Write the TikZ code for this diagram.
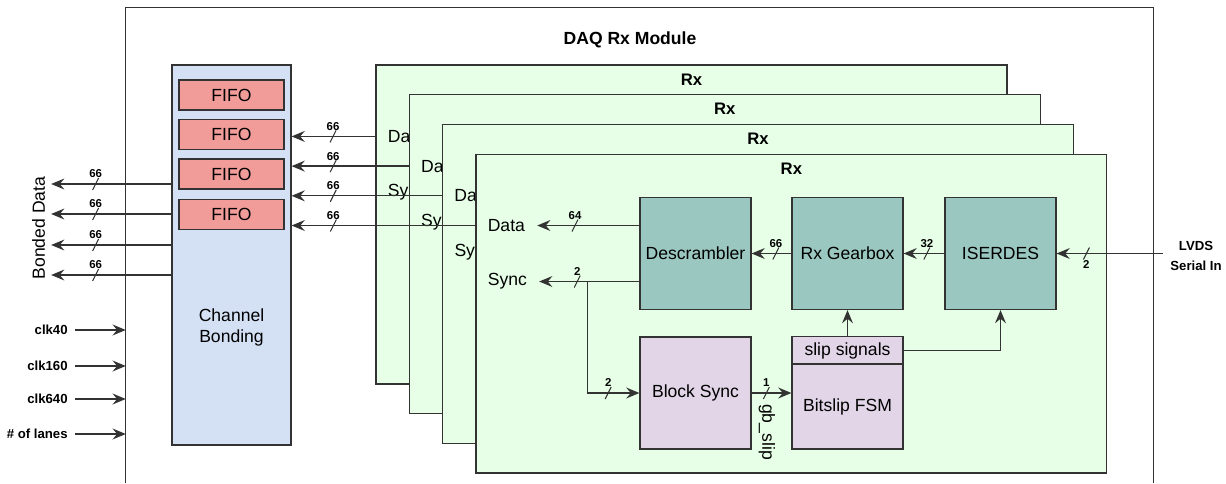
\documentclass[tikz,border=0pt]{standalone}
\usepackage{fontspec}
\setmainfont{Liberation Sans}
\usetikzlibrary{arrows.meta,calc}

\definecolor{rxfill}{HTML}{E6FFE6}
\definecolor{bondfill}{HTML}{D4E1F5}
\definecolor{fifofill}{HTML}{F19C99}
\definecolor{pipefill}{HTML}{9AC7BF}
\definecolor{ctrlfill}{HTML}{E1D5E7}
\definecolor{strokegray}{HTML}{333333}

\tikzset{
  blk/.style={draw=strokegray, line width=0.7pt, inner sep=0pt},
  arr/.style={draw=strokegray, line width=0.75pt, -{Stealth[length=7.5pt,width=6.2pt,inset=2.6pt]}},
  buslbl/.style={font=\fontsize{6.5}{7}\selectfont\bfseries, inner sep=0pt},
  sigin/.style={font=\fontsize{7.5}{11}\selectfont\bfseries, inner xsep=0.14cm},
  port/.style={inner xsep=6.8pt},
  rxttl/.style={font=\fontsize{9.5}{11}\selectfont\bfseries},
  pics/buswd/.style={code={
    \draw[-, line width=0.6pt, strokegray] (-3,6) -- (3,-6);
    \node[buslbl] at (0,-10) {#1};}},
  pics/buswdb/.style={code={
    \draw[-, line width=0.6pt, strokegray] (-3,6) -- (3,-6);
    \node[buslbl] at (0,11) {#1};}},
}

\begin{document}
\begin{tikzpicture}[x=0.02cm, y=-0.02cm, every node/.append style={font=\fontsize{10}{12}\selectfont}]
\path[use as bounding box, fill=white] (0,0) rectangle (1226,483);

% module frame, open at the bottom
\node[minimum width=20.54cm, minimum height=9.5cm, inner sep=0pt] (daq) at (639.5,245.5) {};
\draw[strokegray, line width=0.7pt] (daq.south west) -- (daq.north west) -- (daq.north east) -- (daq.south east);
\node[font=\fontsize{10}{12}\selectfont\bfseries] (daqlbl) at (630,40) {DAQ Rx Module};

% channel bonding
\node[blk, fill=bondfill, minimum width=2.38cm, minimum height=7.6cm] (bond) at (231.5,255) {};
\node[align=center] (bondlbl) at (231.5,327) {Channel\\Bonding};
\foreach \yy [count=\i] in {95,134.5,174,214.5}
  \node[blk, fill=fifofill, minimum width=2.1cm, minimum height=0.6cm] (fifo\i) at (231.5,\yy) {FIFO};

% bonded outputs
\node[rotate=90] (bonded) at (38.5,228) {Bonded Data};
\foreach \yy in {184,214,245,275}
  \draw[arr] (bond.west |- 0,\yy) -- (bonded.south |- 0,\yy) pic[pos=0.63]{buswd=66};

% clocks and lane count
\foreach \nm/\txt/\yy in {c40/clk40/330, c160/clk160/366, c640/clk640/399, lanes/\# of lanes/434} {
  \node[sigin, anchor=east] (\nm) at (75,\yy) {\txt};
  \draw[arr] (\nm.east) -- (daq.west |- \nm);
}

% stacked Rx lanes
\foreach \k in {0,1,2,3} {
  \pgfmathsetmacro\bx{376+33.3*\k+315.5}
  \pgfmathsetmacro\by{65+29.7*\k+159.5}
  \node[blk, fill=rxfill, minimum width=12.62cm, minimum height=6.38cm] (rx\k) at (\bx,\by) {};
  \node[rxttl] (rxt\k) at ($(rx\k.north)+(0,15)$) {Rx};
  \node[port] (da\k) at ($(rx\k.north west)+(31,72)$) {Data};
  \node[port] (sy\k) at ($(rx\k.north west)+(32,128)$) {Sync};
}
\foreach \k in {0,...,3} {
  \pgfmathsetmacro\p{(33.3*\k+43)/(33.3*\k+85)}
  \draw[arr] (rx\k.west |- da\k) -- (bond.east |- da\k) pic[pos=\p]{buswd=66};
}

% front lane internals
\node[blk, fill=pipefill, minimum width=2.22cm, minimum height=2.24cm] (desc) at (695.5,253.5) {Descrambler};
\node[blk, fill=pipefill, minimum width=2.22cm, minimum height=2.24cm] (gear) at (847.5,253.5) {Rx Gearbox};
\node[blk, fill=pipefill, minimum width=2.22cm, minimum height=2.24cm] (iserdes) at (1000.5,253.5) {ISERDES};
\node[blk, fill=ctrlfill, minimum width=2.22cm, minimum height=2.24cm] (bsync) at (695.5,393) {Block Sync};
\node[blk, fill=ctrlfill, minimum width=2.22cm, minimum height=0.56cm] (slip) at (847.5,350.5) {slip signals};
\node[blk, fill=ctrlfill, minimum width=2.22cm, minimum height=1.7cm] (fsm) at (847.5,406.5) {Bitslip FSM};
\node[sigin, align=center] (lvds) at (1196,256) {LVDS\\Serial In};

\draw[arr] (desc.west |- da3) -- (da3.east) pic[pos=0.63]{buswd=64};
\draw[arr] (desc.west |- sy3) -- (sy3.east) pic[pos=0.62]{buswd=2};
\coordinate (tap) at ($(desc.west |- sy3)+(-52,0)$);
\draw[arr] (tap) |- (bsync.west) pic[pos=0.7]{buswd=2};
\draw[arr] (gear.west) -- (desc.east) pic[pos=0.39]{buswd=66};
\draw[arr] (iserdes.west) -- (gear.east) pic[pos=0.43]{buswd=32};
\draw[arr] (lvds.west |- iserdes) -- (iserdes.east) pic[pos=0.72]{buswdb=2};
\draw[arr] (bsync.east) -- (fsm.west |- bsync) pic[pos=0.37]{buswd=1};
\node[rotate=-90] (gbslip) at (767,432) {gb\_slip};
\draw[arr] (slip.north) -- (gear.south);
\draw[arr] (slip.east) -| (iserdes.south);
\end{tikzpicture}
\end{document}
